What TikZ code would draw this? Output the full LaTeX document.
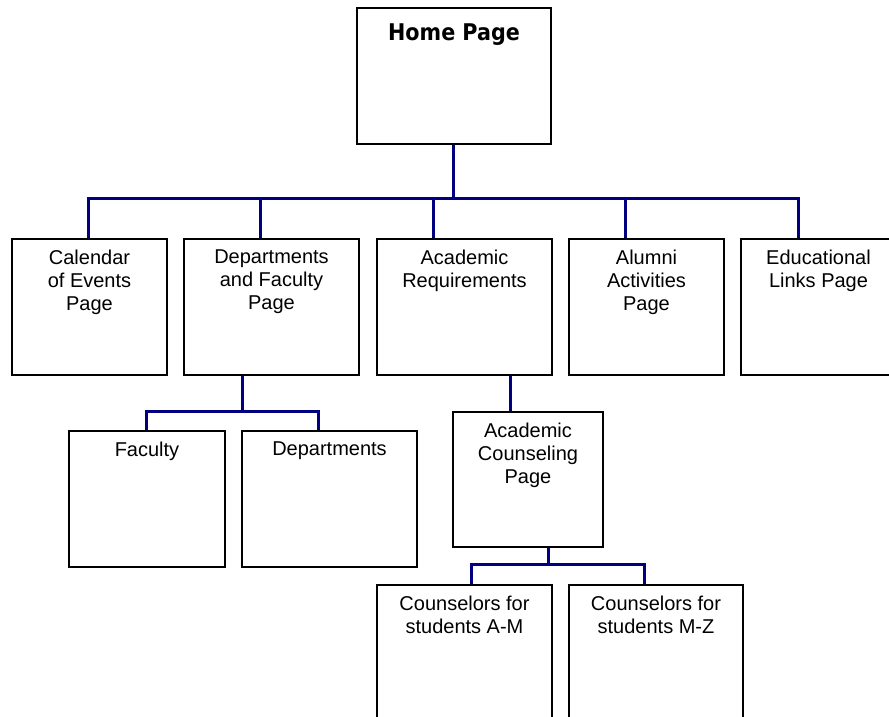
\documentclass[tikz,border=0pt]{standalone}
\usepackage{fontspec}
\setmainfont{Liberation Sans}
\newfontfamily\headfont{DejaVu Sans Condensed}
\usepackage{tikz}
\usetikzlibrary{positioning}

\definecolor{linkblue}{RGB}{0,0,128}

\tikzset{
  page/.style={draw=black, line width=2.5pt, inner sep=0pt, minimum height=136pt},
  pagetext/.style={inner sep=0pt, align=center, font=\fontsize{20}{23}\selectfont},
  link/.style={draw=linkblue, line width=3pt}
}

\begin{document}
\begin{tikzpicture}[x=1pt, y=-1pt]
  \useasboundingbox (0,0) rectangle (889,717);
  \clip (0,0) rectangle (889,717);

  % boxes
  \node[page, minimum width=194pt] (home) at (454,76) {};
  \node[page, minimum width=155pt] (cal) at (89.5,307) {};
  \node[page, minimum width=175pt] (dept) at (271.5,307) {};
  \node[page, minimum width=175pt] (areq) at (464.5,307) {};
  \node[page, minimum width=155pt] (alum) at (646.5,307) {};
  \node[page, minimum width=155pt] (edu) at (818.5,307) {};
  \node[page, minimum width=156pt] (fac) at (147,499) {};
  \node[page, minimum width=175pt] (deps) at (329.5,499) {};
  \node[page, minimum width=150pt, minimum height=135pt] (acou) at (528,479.5) {};
  \node[page, minimum width=175pt] (cam) at (464.5,653) {};
  \node[page, minimum width=174pt] (cmz) at (656,653) {};

  % texts
  \node[inner sep=0pt, font=\fontsize{23}{25}\headfont\bfseries, below=17pt of home.north] (hometext) {Home Page};
  \node[pagetext, below=12pt of cal.north] (caltext) {Calendar\\of Events\\Page};
  \node[pagetext, below=12pt of dept.north] (depttext) {Departments\\and Faculty\\Page};
  \node[pagetext, below=12pt of areq.north] (areqtext) {Academic\\Requirements};
  \node[pagetext, below=12pt of alum.north] (alumtext) {Alumni\\Activities\\Page};
  \node[pagetext, below=12pt of edu.north] (edutext) {Educational\\Links Page};
  \node[pagetext, below=12pt of fac.north] (factext) {Faculty};
  \node[pagetext, below=12pt of deps.north] (depstext) {Departments};
  \node[pagetext, below=12pt of acou.north] (acoutext) {Academic\\Counseling\\Page};
  \node[pagetext, below=12pt of cam.north] (camtext) {Counselors for\\students A-M};
  \node[pagetext, below=12pt of cmz.north] (cmztext) {Counselors for\\students M-Z};

  % junctions
  \coordinate (top) at (453,198);
  \coordinate (mid) at (242,411);
  \coordinate (low) at (548,564);

  % links
  \draw[link] (home.south -| top) -- (top);
  \draw[link] (cal.north -| 88,0) |- (top);
  \draw[link] (edu.north -| 798,0) |- (top);
  \draw[link] (dept.north -| 260,0) -- (260,198);
  \draw[link] (areq.north -| 433,0) -- (433,198);
  \draw[link] (alum.north -| 625,0) -- (625,198);

  \draw[link] (dept.south -| mid) -- (mid);
  \draw[link] (fac.north -| 146,0) |- (mid) -| (deps.north -| 318,0);

  \draw[link] (areq.south -| 510,0) -- (acou.north -| 510,0);

  \draw[link] (acou.south -| low) -- (low);
  \draw[link] (cam.north -| 471,0) |- (low) -| (cmz.north -| 644,0);
\end{tikzpicture}
\end{document}
